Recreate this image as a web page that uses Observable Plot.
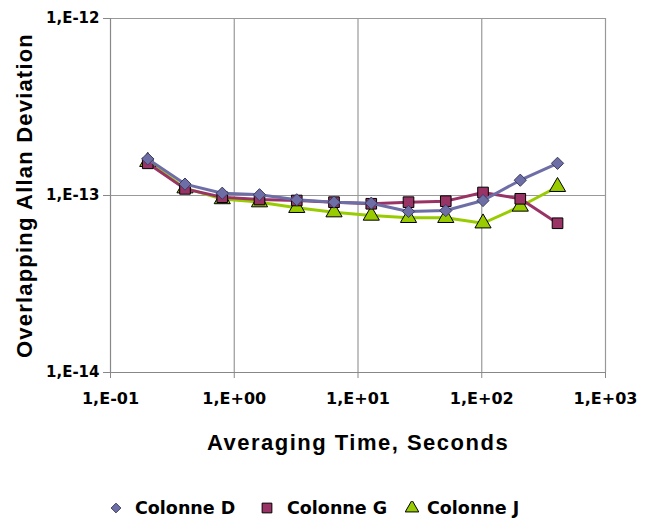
<!DOCTYPE html>
<html>
<head>
<meta charset="utf-8">
<script src="https://cdn.jsdelivr.net/npm/d3@7"></script>
<script src="https://cdn.jsdelivr.net/npm/@observablehq/plot@0.6"></script>
<style>
  body { margin: 0; background: #fff; font-family: "Liberation Sans", Arial, sans-serif; }
  #chart { width: 650px; }
  #legend { position: relative; width: 650px; height: 40px; margin-top: 20px;
            font-family: "DejaVu Sans", sans-serif; font-weight: bold; font-size: 17.5px; color: #000; }
  #legend .sym { position: absolute; top: 11px; }
  #legend .lab { position: absolute; top: 6px; line-height: 24px; white-space: nowrap; }
</style>
</head>
<body>
<div id="chart"></div>
<div id="legend"></div>
<script>
const tau = [0.2, 0.4, 0.8, 1.6, 3.2, 6.4, 12.8, 25.6, 51.2, 102.4, 204.8, 409.6];
const colonneD = [1.61e-13, 1.16e-13, 1.03e-13, 1.01e-13, 9.46e-14, 9.17e-14, 9.05e-14, 8.12e-14, 8.22e-14, 9.37e-14, 1.22e-13, 1.52e-13];
const colonneG = [1.52e-13, 1.09e-13, 9.78e-14, 9.49e-14, 9.37e-14, 9.17e-14, 8.98e-14, 9.17e-14, 9.29e-14, 1.04e-13, 9.58e-14, 6.97e-14];
const colonneJ = [1.55e-13, 1.10e-13, 9.55e-14, 9.17e-14, 8.52e-14, 8.05e-14, 7.71e-14, 7.48e-14, 7.48e-14, 6.97e-14, 8.67e-14, 1.12e-13];
const seriesNames = ["Colonne D", "Colonne G", "Colonne J"];
const xTicks = [0.1, 1, 10, 100, 1000];
const xTickLabels = ["1,E-01", "1,E+00", "1,E+01", "1,E+02", "1,E+03"];
const yTicks = [1e-14, 1e-13, 1e-12];
const yTickLabels = ["1,E-14", "1,E-13", "1,E-12"];
const xTitle = "Averaging Time, Seconds";
const yTitle = "Overlapping Allan Deviation";

const colors = {"Colonne D": "#6E6EA6", "Colonne G": "#993366", "Colonne J": "#99CC00"};
const symbols = {"Colonne D": "diamond2", "Colonne G": "square", "Colonne J": "triangle"};
const sizes = {"Colonne D": 5.5, "Colonne G": 6, "Colonne J": 6};

const toRows = (name, vals) => tau.map((t, i) => ({t, v: vals[i], s: name}));
const rowsD = toRows("Colonne D", colonneD);
const rowsG = toRows("Colonne G", colonneG);
const rowsJ = toRows("Colonne J", colonneJ);

const seriesMarks = (rows) => {
  const n = rows[0].s;
  return [
    Plot.line(rows, {x: "t", y: "v", stroke: colors[n], strokeWidth: 3}),
    Plot.dot(rows, {x: "t", y: "v", symbol: () => symbols[n], r: sizes[n], fill: colors[n],
      stroke: n === "Colonne D" ? "#3c3c60" : "#000", strokeWidth: 1})
  ];
};

const chart = Plot.plot({
  width: 650,
  height: 470,
  marginLeft: 110,
  marginRight: 45,
  marginTop: 18,
  marginBottom: 98,
  style: {fontFamily: "Liberation Sans, Arial, sans-serif", background: "#fff"},
  x: {type: "log", domain: [0.1, 1000]},
  y: {type: "log", domain: [1e-14, 1e-12]},
  marks: [
    Plot.ruleX(xTicks.slice(1), {stroke: "#999", strokeWidth: 1.2}),
    Plot.ruleY(yTicks.slice(1), {stroke: "#999", strokeWidth: 1.2}),
    Plot.ruleX([0.1], {stroke: "#888", strokeWidth: 1.2}),
    Plot.ruleY([1e-14], {stroke: "#888", strokeWidth: 1.2}),
    Plot.axisX({ticks: xTicks, tickFormat: (d) => xTickLabels[xTicks.indexOf(d)], tickSize: 6, tickPadding: 14,
      stroke: "#888", fontSize: 16, fontWeight: "bold", fontFamily: "DejaVu Sans, sans-serif",
      label: null}),
    Plot.axisY({ticks: yTicks, tickFormat: (d) => yTickLabels[yTicks.indexOf(d)], tickSize: 7, tickPadding: 4,
      stroke: "#888", fontSize: 15, fontWeight: "bold", fontFamily: "DejaVu Sans, sans-serif",
      label: null}),
    Plot.text([xTitle], {frameAnchor: "bottom", dy: 77, text: (d) => d,
      fontSize: 22, fontWeight: "bold", fill: "#000"}),
    Plot.text([yTitle], {frameAnchor: "left", dx: -86, rotate: -90, textAnchor: "middle",
      text: (d) => d, fontSize: 22, fontWeight: "bold", fill: "#000"}),
    ...seriesMarks(rowsJ),
    ...seriesMarks(rowsG),
    ...seriesMarks(rowsD)
  ]
});
d3.select(chart).selectAll("text").filter(function () { return this.textContent === xTitle; })
  .attr("letter-spacing", "1.5px");
d3.select(chart).selectAll("text").filter(function () { return this.textContent === yTitle; })
  .attr("letter-spacing", "1.2px");
document.getElementById("chart").appendChild(chart);

// Legend
const legend = d3.select("#legend");
const legendSymbols = {"Colonne D": [d3.symbolDiamond2, 60], "Colonne G": [d3.symbolSquare, 95], "Colonne J": [d3.symbolTriangle, 80]};
const symX = [109, 260, 405];
const labX = [135, 287, 427];
seriesNames.forEach((n, i) => {
  const svg = legend.append("svg").attr("class", "sym").attr("width", 14).attr("height", 14)
    .style("left", symX[i] + "px");
  svg.append("path")
    .attr("transform", "translate(7,7)")
    .attr("d", d3.symbol(legendSymbols[n][0], legendSymbols[n][1])())
    .attr("fill", colors[n]).attr("stroke", n === "Colonne D" ? "#3c3c60" : "#000").attr("stroke-width", 1);
  legend.append("span").attr("class", "lab").style("left", labX[i] + "px").text(n);
});
</script>
</body>
</html>
